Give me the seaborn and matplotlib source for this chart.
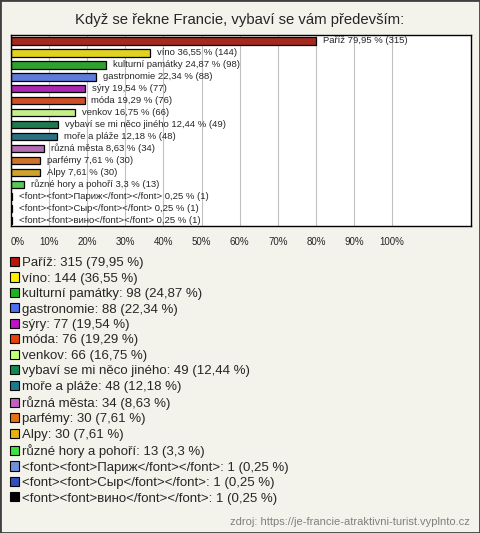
import matplotlib
matplotlib.use("Agg")
import matplotlib.pyplot as plt
import seaborn as sns
import pandas as pd
from matplotlib.patches import Patch, Rectangle

# survey answers, counts and shares
answers = ["Paříž", "víno", "kulturní památky", "gastronomie", "sýry", "móda",
           "venkov", "vybaví se mi něco jiného", "moře a pláže", "různá města",
           "parfémy", "Alpy", "různé hory a pohoří",
           "<font><font>Париж</font></font>", "<font><font>Сыр</font></font>",
           "<font><font>вино</font></font>"]
counts = [315, 144, 98, 88, 77, 76, 66, 49, 48, 34, 30, 30, 13, 1, 1, 1]
percents = [79.95, 36.55, 24.87, 22.34, 19.54, 19.29, 16.75, 12.44, 12.18,
            8.63, 7.61, 7.61, 3.3, 0.25, 0.25, 0.25]
colors = ["#b8160c", "#ffee00", "#1cb41c", "#4a70f0", "#c010c8", "#e8400c",
          "#c8ff78", "#108a50", "#1c7890", "#c060c0", "#e87010", "#e8b010",
          "#40e040", "#7090d8", "#3050c0", "#000000"]
xticks = list(range(0, 101, 10))

title = "Když se řekne Francie, vybaví se vám především:"
source = "zdroj: https://je-francie-atraktivni-turist.vyplnto.cz"


def fmt(p):
    return str(p).replace(".", ",")


sns.set_theme(style="white")
plt.rcParams['font.family'] = ['Liberation Sans', 'DejaVu Sans']

bg = "#f4f3eb"
fig = plt.figure(figsize=(4.8, 5.33), dpi=100, facecolor=bg)
ax = fig.add_axes([11/480, 1 - 226/533, 460/480, 191/533])
ax.set_facecolor("white")

df = pd.DataFrame({"answer": answers, "pct": percents})
sns.barplot(data=df, x="pct", y="answer", hue="answer", palette=colors,
            width=0.62, edgecolor="black", linewidth=0.9, legend=False,
            orient="h", ax=ax)

ax.set_xlim(0, 120.7)
ax.set_ylim(15.48, -0.5)
ax.set_xticks(xticks)
ax.set_xticklabels([f"{t}%" for t in xticks], fontsize=7)
ax.get_xticklabels()[0].set_horizontalalignment("left")
ax.tick_params(axis="x", length=0, pad=8)
ax.set_yticks([])
ax.set_xlabel("")
ax.set_ylabel("")
ax.xaxis.grid(True, color="#c0c0c0", lw=0.8)
ax.set_axisbelow(True)
for s in ax.spines.values():
    s.set_color("black")
    s.set_linewidth(1)

for i, (a, p, c) in enumerate(zip(answers, percents, counts)):
    ax.annotate(f"{a} {fmt(p)} % ({c})", xy=(p, i), xytext=(5, 0),
                textcoords="offset points", va="center", fontsize=6.8)

fig.text(0.5, 1 - 20/533, title, ha="center", va="center", fontsize=10.7)

handles = [Patch(facecolor=c, edgecolor="black", lw=0.8) for c in colors]
labels = [f"{a}: {c} ({fmt(p)} %)" for a, c, p in zip(answers, counts, percents)]
fig.legend(handles, labels, loc="upper left", bbox_to_anchor=(10/480, 1 - 257/533),
           frameon=False, fontsize=9.5, handlelength=0.68, handleheight=0.68,
           handletextpad=0.2, labelspacing=0.25, borderpad=0, borderaxespad=0)

fig.text(470/480, 1 - 522/533, source, ha="right", va="center",
         fontsize=8, color="#808080")

fig.patches.append(Rectangle((0, 0), 1, 1, transform=fig.transFigure,
                             fill=False, edgecolor="#404040", lw=2))

fig.savefig("out.png", dpi=100, facecolor=bg)
